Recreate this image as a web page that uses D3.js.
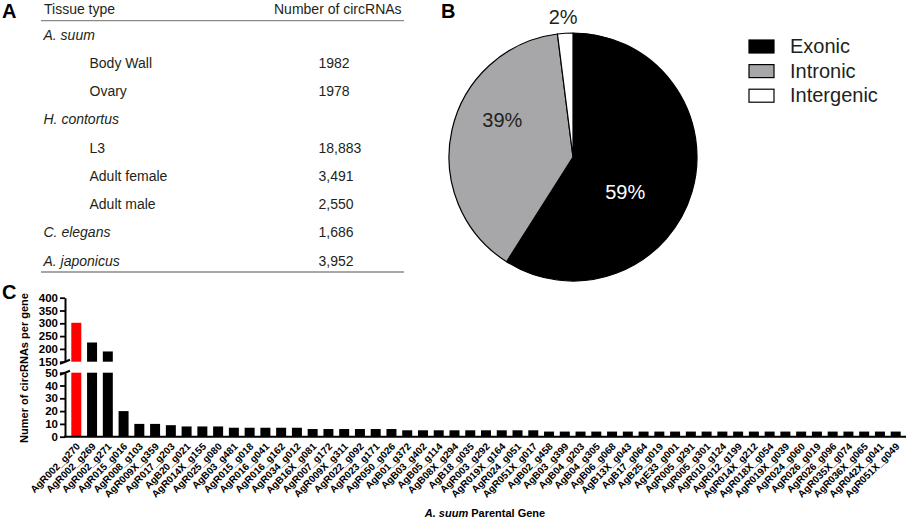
<!DOCTYPE html>
<html>
<head>
<meta charset="utf-8">
<script src="https://cdn.jsdelivr.net/npm/d3@7"></script>
<style>
  body { margin: 0; background: #fff; }
  svg { font-family: Arial, "Liberation Sans", sans-serif; display: block; }
</style>
</head>
<body>
<svg id="fig" width="913" height="520"></svg>
<script>
// Panel A: table of circRNA counts per tissue
const tissueLabels = ['A. suum', 'Body Wall', 'Ovary', 'H. contortus', 'L3', 'Adult female', 'Adult male', 'C. elegans', 'A. japonicus'];
const tissueCounts = ['', '1982', '1978', '', '18,883', '3,491', '2,550', '1,686', '3,952'];
const tissueIsSpecies = [true, false, false, true, false, false, false, true, true];

// Panel B: genomic origin of circRNAs (%)
const originTypes = ['Exonic', 'Intronic', 'Intergenic'];
const originShares = [59, 39, 2];
const originColors = ['#000000', '#a7a7a9', '#ffffff'];

// Panel C: circRNAs per parental gene
const genes = [
  'AgR002_g270', 'AgR002_g269', 'AgR002_g271', 'AgR015_g016', 'AgR008_g103', 'AgR009X_g359',
  'AgR017_g203', 'AgB20_g021', 'AgR014X_g155', 'AgR025_g080', 'AgB03_g481', 'AgR015_g018',
  'AgR016_g041', 'AgR016_g162', 'AgR034_g012', 'AgB16X_g081', 'AgR007_g172', 'AgR009X_g311',
  'AgR022_g092', 'AgR023_g171', 'AgR050_g026', 'AgB01_g372', 'AgB03_g402', 'AgB05_g114',
  'AgB08X_g294', 'AgB18_g035', 'AgR003_g292', 'AgR019X_g164', 'AgR024_g051', 'AgR051X_g017',
  'AgB02_g458', 'AgB03_g399', 'AgB04_g203', 'AgB04_g305', 'AgB06_g068', 'AgB13X_g043',
  'AgB17_g064', 'AgB25_g019', 'AgE33_g001', 'AgR005_g291', 'AgR005_g301', 'AgR010_g124',
  'AgR012_g199', 'AgR014X_g212', 'AgR018X_g054', 'AgR019X_g039', 'AgR024_g060', 'AgR026_g019',
  'AgR026_g096', 'AgR035X_g074', 'AgR036X_g065', 'AgR042X_g041', 'AgR051X_g049'
];
const circCounts = [
  302, 225, 190, 20, 10, 10,
  9, 8, 8, 8, 7, 7,
  7, 7, 7, 6, 6, 6,
  6, 6, 6, 5, 5, 5,
  5, 5, 5, 5, 5, 5,
  4, 4, 4, 4, 4, 4,
  4, 4, 4, 4, 4, 4,
  4, 4, 4, 4, 4, 4,
  4, 4, 4, 4, 4
];
const lowTicks = [0, 10, 20, 30, 40, 50];
const highTicks = [150, 200, 250, 300, 350, 400];
const highlightGene = 'AgR002_g270';

const svg = d3.select('#fig');

// panel letters
svg.append('text').attr('x', 2).attr('y', 18).text('A')
  .attr('font-size', 20).attr('font-weight', 'bold');
svg.append('text').attr('x', 441).attr('y', 18).text('B')
  .attr('font-size', 20).attr('font-weight', 'bold');
svg.append('text').attr('x', 2).attr('y', 299).text('C')
  .attr('font-size', 20).attr('font-weight', 'bold');

// ---------- A: table ----------
const table = svg.append('g').attr('font-size', 14).attr('fill', '#231f20');
const rowY = d3.scalePoint().domain(d3.range(tissueLabels.length)).range([39.5, 265.5]);

table.append('text').attr('x', 44).attr('y', 13.5).text('Tissue type');
table.append('text').attr('x', 274).attr('y', 13.5).text('Number of circRNAs');
table.selectAll('line.rule')
  .data([20.7, 272])
  .join('line')
  .attr('class', 'rule')
  .attr('x1', 41).attr('x2', 404)
  .attr('y1', d => d).attr('y2', d => d)
  .attr('stroke', '#8a8a8a').attr('stroke-width', 1.3);

table.selectAll('text.tissue')
  .data(tissueLabels)
  .join('text')
  .attr('class', 'tissue')
  .attr('x', (d, i) => tissueIsSpecies[i] ? 43.5 : 89.5)
  .attr('y', (d, i) => rowY(i))
  .attr('font-style', (d, i) => tissueIsSpecies[i] ? 'italic' : 'normal')
  .text(d => d);

table.selectAll('text.count')
  .data(tissueCounts)
  .join('text')
  .attr('class', 'count')
  .attr('x', 318.5)
  .attr('y', (d, i) => rowY(i))
  .text(d => d);

// ---------- B: pie ----------
const cx = 573, cy = 157, radius = 124;
const pie = d3.pie().sort(null).value(d => d)(originShares);
const arc = d3.arc().innerRadius(0).outerRadius(radius);
const pieG = svg.append('g').attr('transform', `translate(${cx},${cy})`);

pieG.selectAll('path')
  .data(pie)
  .join('path')
  .attr('d', arc)
  .attr('fill', (d, i) => originColors[i])
  .attr('stroke', '#000')
  .attr('stroke-width', 1.2)
  .attr('stroke-linejoin', 'round');

// label placement (angle in degrees clockwise from 12 o'clock, distance from centre)
const labelPolar = [[124, 63], [298, 80], [356, 141]];
const labelFill = ['#ffffff', '#231f20', '#231f20'];
pieG.selectAll('text')
  .data(pie)
  .join('text')
  .attr('x', (d, i) => labelPolar[i][1] * Math.sin(labelPolar[i][0] * Math.PI / 180))
  .attr('y', (d, i) => -labelPolar[i][1] * Math.cos(labelPolar[i][0] * Math.PI / 180))
  .attr('dy', '0.36em')
  .attr('text-anchor', 'middle')
  .attr('font-size', 20)
  .attr('fill', (d, i) => labelFill[i])
  .text(d => d.data + '%');

// legend
const legend = svg.append('g').attr('transform', 'translate(749,40)');
const legendRow = legend.selectAll('g')
  .data(originTypes)
  .join('g')
  .attr('transform', (d, i) => `translate(0,${i * 24.6})`);
legendRow.append('rect')
  .attr('width', 25).attr('height', 13)
  .attr('fill', (d, i) => originColors[i])
  .attr('stroke', '#000').attr('stroke-width', 1.2);
legendRow.append('text')
  .attr('x', 41).attr('y', 13)
  .attr('font-size', 20)
  .attr('fill', '#231f20')
  .text(d => d);

// ---------- C: broken-axis bar chart ----------
const axisX = 65;
const x = d3.scaleBand().domain(genes).range([axisX, 907]).paddingInner(0.366).paddingOuter(0.4);
const yLow = d3.scaleLinear().domain([0, 50]).range([436.7, 372.7]);
const yHigh = d3.scaleLinear().domain([150, 400]).range([361.7, 297.7]);

const bars = svg.append('g');
const barData = genes.map((g, i) => ({ gene: g, value: circCounts[i] }));
const barFill = d => d.gene === highlightGene ? '#ff0000' : '#000000';

bars.selectAll('rect.low')
  .data(barData)
  .join('rect')
  .attr('class', 'low')
  .attr('x', d => x(d.gene))
  .attr('width', x.bandwidth())
  .attr('y', d => yLow(Math.min(d.value, 50)))
  .attr('height', d => yLow(0) - yLow(Math.min(d.value, 50)))
  .attr('fill', barFill);

bars.selectAll('rect.high')
  .data(barData.filter(d => d.value > 150))
  .join('rect')
  .attr('class', 'high')
  .attr('x', d => x(d.gene))
  .attr('width', x.bandwidth())
  .attr('y', d => yHigh(d.value))
  .attr('height', d => yHigh(150) - yHigh(d.value))
  .attr('fill', barFill);

function styleAxis(g) {
  g.select('.domain').attr('stroke-width', 2);
  g.selectAll('.tick line').attr('stroke-width', 1.8);
  g.selectAll('.tick text')
    .attr('font-size', 11.5).attr('font-weight', 'bold')
    .attr('font-family', 'Arial, "Liberation Sans", sans-serif')
    .attr('fill', '#000');
}

svg.append('g')
  .attr('transform', `translate(${axisX},0)`)
  .call(d3.axisLeft(yLow).tickValues(lowTicks).tickSize(5).tickSizeOuter(0).tickPadding(2))
  .call(styleAxis);

svg.append('g')
  .attr('transform', `translate(${axisX},0)`)
  .call(d3.axisLeft(yHigh).tickValues(highTicks).tickSize(5).tickSizeOuter(0).tickPadding(2))
  .call(styleAxis);

// break marks on the y axis
svg.selectAll('line.brk')
  .data([yHigh(150), yLow(50)])
  .join('line')
  .attr('class', 'brk')
  .attr('x1', axisX - 5).attr('x2', axisX + 5)
  .attr('y1', d => d + 2).attr('y2', d => d - 2)
  .attr('stroke', '#000').attr('stroke-width', 2);

// x axis baseline
svg.append('line')
  .attr('x1', axisX - 1).attr('x2', 906)
  .attr('y1', yLow(0)).attr('y2', yLow(0))
  .attr('stroke', '#000').attr('stroke-width', 2);

// gene labels
svg.append('g').selectAll('text')
  .data(genes)
  .join('text')
  .attr('transform', d => `translate(${x(d) + x.bandwidth() / 2 + 2},${yLow(0) + 8}) rotate(-45)`)
  .attr('dy', '0.35em')
  .attr('text-anchor', 'end')
  .attr('font-size', 10)
  .attr('font-weight', 'bold')
  .text(d => d);

// axis titles
svg.append('text')
  .attr('transform', `translate(28,368) rotate(-90)`)
  .attr('text-anchor', 'middle')
  .attr('font-size', 11)
  .attr('font-weight', 'bold')
  .text('Numer of circRNAs per gene');

const xTitle = svg.append('text')
  .attr('x', 485).attr('y', 517)
  .attr('text-anchor', 'middle')
  .attr('font-size', 11)
  .attr('font-weight', 'bold');
xTitle.append('tspan').attr('font-style', 'italic').text('A. suum');
xTitle.append('tspan').text(' Parental Gene');
</script>
</body>
</html>
